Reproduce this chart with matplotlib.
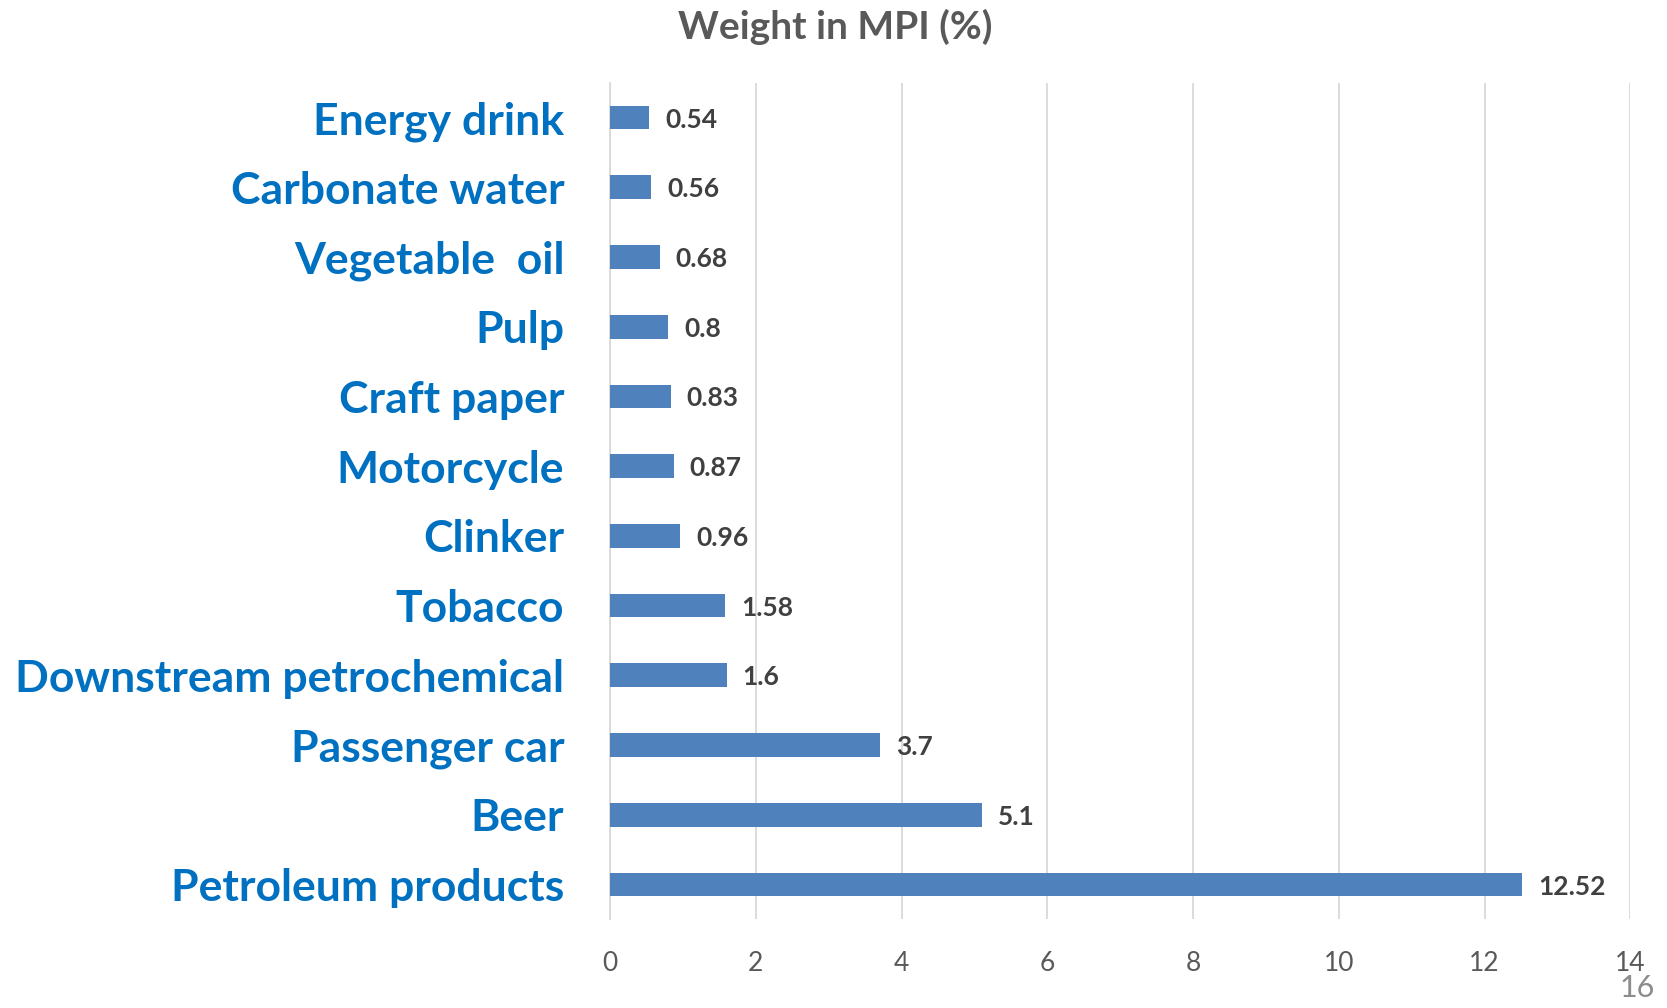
import numpy as np
import matplotlib.pyplot as plt

# data to plot
categories = ['Petroleum products', 'Beer', 'Passenger car', 'Downstream petrochemical',
              'Tobacco', 'Clinker', 'Motorcycle', 'Craft paper', 'Pulp',
              'Vegetable  oil', 'Carbonate water', 'Energy drink']
weights = [12.52, 5.1, 3.7, 1.6, 1.58, 0.96, 0.87, 0.83, 0.8, 0.68, 0.56, 0.54]
value_labels = ['12.52', '5.1', '3.7', '1.6', '1.58', '0.96', '0.87', '0.83', '0.8',
                '0.68', '0.56', '0.54']
xticks = [0, 2, 4, 6, 8, 10, 12, 14]

plt.rcParams['font.family'] = ['Lato', 'DejaVu Sans']

fig = plt.figure(figsize=(16.67, 10.08), dpi=100)
ax = fig.add_axes([0.366, 0.088, 0.612, 0.830])

index = np.arange(len(categories))
ax.barh(index, weights, height=0.34, color='#4F81BD', zorder=3)

for i, (w, lab) in enumerate(zip(weights, value_labels)):
    ax.text(w + 0.22, i - 0.03, lab, va='center', ha='left', fontsize=19,
            fontweight='bold', color='#404040')

ax.set_xlim(0, 14)
ax.set_ylim(-0.5, len(categories) - 0.5)
ax.set_xticks(xticks)
ax.set_xticklabels([str(t) for t in xticks], fontsize=19, color='#595959')
ax.set_yticks(index)
ax.set_yticklabels(categories, fontsize=32, fontweight='bold', color='#0070C0')
ax.tick_params(axis='both', length=0)
ax.tick_params(axis='y', pad=33)
ax.tick_params(axis='x', pad=23)

ax.grid(axis='x', color='#D9D9D9', linewidth=1.3, zorder=0)
for s in ['top', 'right', 'bottom']:
    ax.spines[s].set_visible(False)
ax.spines['left'].set_color('#D9D9D9')
ax.spines['left'].set_linewidth(1.3)

fig.text(0.501, 0.973, 'Weight in MPI (%)', ha='center', va='center',
         fontsize=28, fontweight='bold', color='#595959')
fig.text(0.993, 0.006, '16', ha='right', va='bottom', fontsize=22, color='#8C8C8C')

plt.savefig('out.png', dpi=100)
